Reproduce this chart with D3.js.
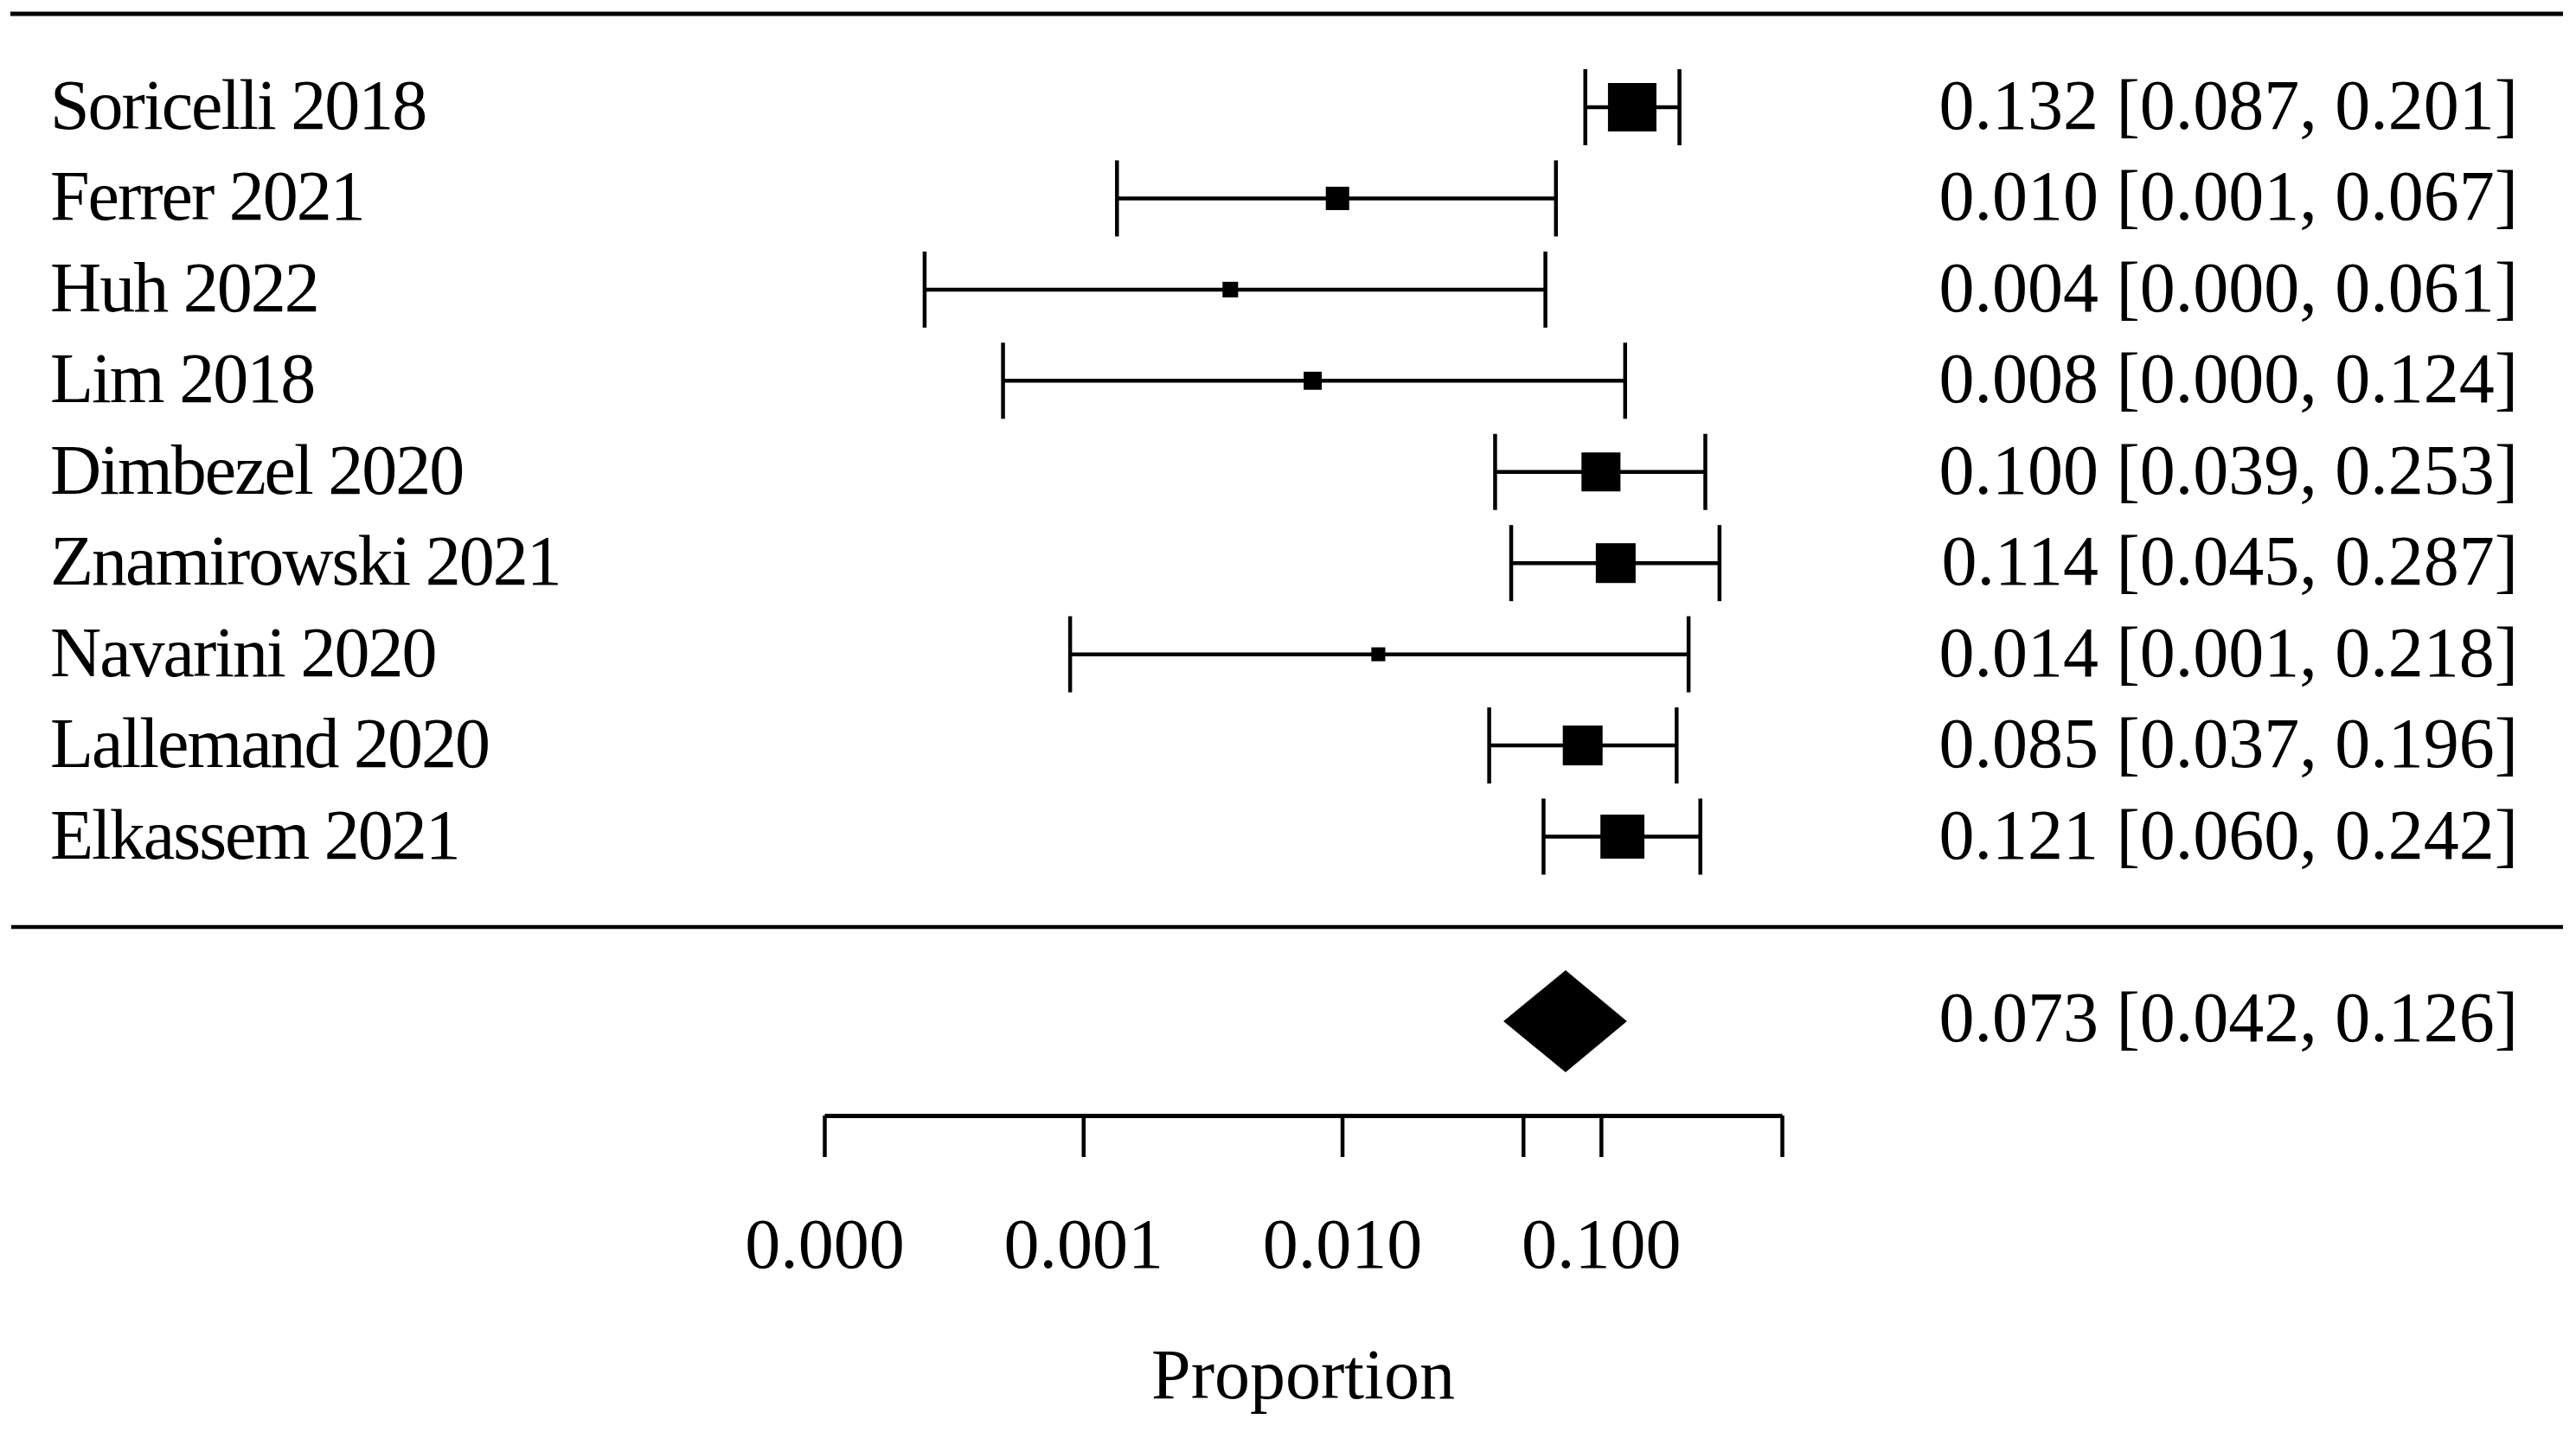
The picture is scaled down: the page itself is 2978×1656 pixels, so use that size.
<!DOCTYPE html>
<html>
<head>
<meta charset="utf-8">
<script src="https://cdn.jsdelivr.net/npm/d3@7"></script>
<style>
  body { margin: 0; background: #fff; }
  text { font-family: "Liberation Serif", "Times New Roman", serif; fill: #000; }
</style>
</head>
<body>
<div id="viz"></div>
<script>
// study rows, top to bottom
var studies = ["Soricelli 2018", "Ferrer 2021", "Huh 2022", "Lim 2018", "Dimbezel 2020",
               "Znamirowski 2021", "Navarini 2020", "Lallemand 2020", "Elkassem 2021"];
// proportions and 95% CI (lows estimated where they print as 0.000/0.001)
var est = [0.132, 0.0096, 0.0037, 0.0077, 0.100, 0.114, 0.0138, 0.085, 0.121];
var lo  = [0.087, 0.00135, 0.000244, 0.00049, 0.039, 0.045, 0.00089, 0.037, 0.060];
var hi  = [0.201, 0.067, 0.061, 0.124, 0.253, 0.287, 0.218, 0.196, 0.242];
// study weights (%), estimated from the square sizes
var weights = [17.4, 8.4, 5.6, 6.5, 14.0, 14.3, 5.0, 14.3, 15.8];
// pooled estimate
var pooled = {est: 0.073, lo: 0.042, hi: 0.126};
// axis
var tickValues = [0.0001, 0.001, 0.01, 0.05, 0.1, 0.5];
var tickLabels = ["0.000", "0.001", "0.010", "", "0.100", ""];
var axisTitle = "Proportion";

var width = 2978, height = 1656;
var fs = 82;
var lw = 4.5;
var fmt = d3.format(".3f");

var svg = d3.select("#viz").append("svg")
  .attr("width", width)
  .attr("height", height);

svg.append("rect").attr("width", width).attr("height", height).attr("fill", "#fff");

var x = d3.scaleLog().domain([0.0001, 0.5]).range([953, 2060]);
var y = d3.scalePoint().domain(studies).range([124, 967.5]);
var size = d3.scaleLinear().domain([0, d3.max(weights)]).range([0, 56]);
var yPooled = 1181;

// horizontal rules
svg.append("line")
  .attr("x1", 12).attr("x2", 2963).attr("y1", 16).attr("y2", 16)
  .attr("stroke", "#000").attr("stroke-width", 5);
svg.append("line")
  .attr("x1", 13).attr("x2", 2963).attr("y1", 1072).attr("y2", 1072)
  .attr("stroke", "#000").attr("stroke-width", lw);

var rows = studies.map(function(s, i) {
  return {name: s, est: est[i], lo: lo[i], hi: hi[i], w: weights[i]};
});

var g = svg.selectAll("g.row")
  .data(rows)
  .enter().append("g")
  .attr("class", "row")
  .attr("transform", function(d) { return "translate(0," + y(d.name) + ")"; });

// CI line
g.append("line")
  .attr("x1", function(d) { return x(d.lo); })
  .attr("x2", function(d) { return x(d.hi); })
  .attr("stroke", "#000").attr("stroke-width", lw);
// end caps
["lo", "hi"].forEach(function(k) {
  g.append("line")
    .attr("x1", function(d) { return x(d[k]); })
    .attr("x2", function(d) { return x(d[k]); })
    .attr("y1", -44).attr("y2", 44)
    .attr("stroke", "#000").attr("stroke-width", lw);
});
// weighted squares
g.append("rect")
  .attr("x", function(d) { return x(d.est) - size(d.w) / 2; })
  .attr("y", function(d) { return -size(d.w) / 2; })
  .attr("width", function(d) { return size(d.w); })
  .attr("height", function(d) { return size(d.w); })
  .attr("fill", "#000");

// study labels
g.append("text")
  .text(function(d) { return d.name; })
  .attr("x", 58)
  .attr("y", 25)
  .attr("font-size", fs)
  .attr("letter-spacing", "-2px");

// estimate text
g.append("text")
  .text(function(d) { return fmt(d.est) + " [" + fmt(d.lo) + ", " + fmt(d.hi) + "]"; })
  .attr("x", 2911)
  .attr("y", 25)
  .attr("font-size", fs)
  .attr("text-anchor", "end");

// pooled diamond
svg.append("polygon")
  .attr("points", [
    [x(pooled.lo), yPooled],
    [x(pooled.est), yPooled - 59],
    [x(pooled.hi), yPooled],
    [x(pooled.est), yPooled + 59]
  ].map(function(p) { return p.join(","); }).join(" "))
  .attr("fill", "#000");

svg.append("text")
  .text(fmt(pooled.est) + " [" + fmt(pooled.lo) + ", " + fmt(pooled.hi) + "]")
  .attr("x", 2911)
  .attr("y", yPooled + 23)
  .attr("font-size", fs)
  .attr("text-anchor", "end");

// x axis
var axis = d3.axisBottom(x)
  .tickValues(tickValues)
  .tickFormat(function(d, i) { return tickLabels[i]; })
  .tickSize(48)
  .tickSizeOuter(0)
  .tickPadding(70);

var ax = svg.append("g")
  .attr("transform", "translate(0,1290)")
  .call(axis);
ax.select(".domain").attr("stroke-width", 5);
ax.selectAll(".tick line").attr("stroke-width", lw);
ax.selectAll(".tick text")
  .attr("font-size", fs)
  .attr("font-family", "Liberation Serif, Times New Roman, serif");

svg.append("text")
  .text(axisTitle)
  .attr("x", (x.range()[0] + x.range()[1]) / 2)
  .attr("y", 1617)
  .attr("font-size", fs)
  .attr("text-anchor", "middle");
</script>
</body>
</html>
